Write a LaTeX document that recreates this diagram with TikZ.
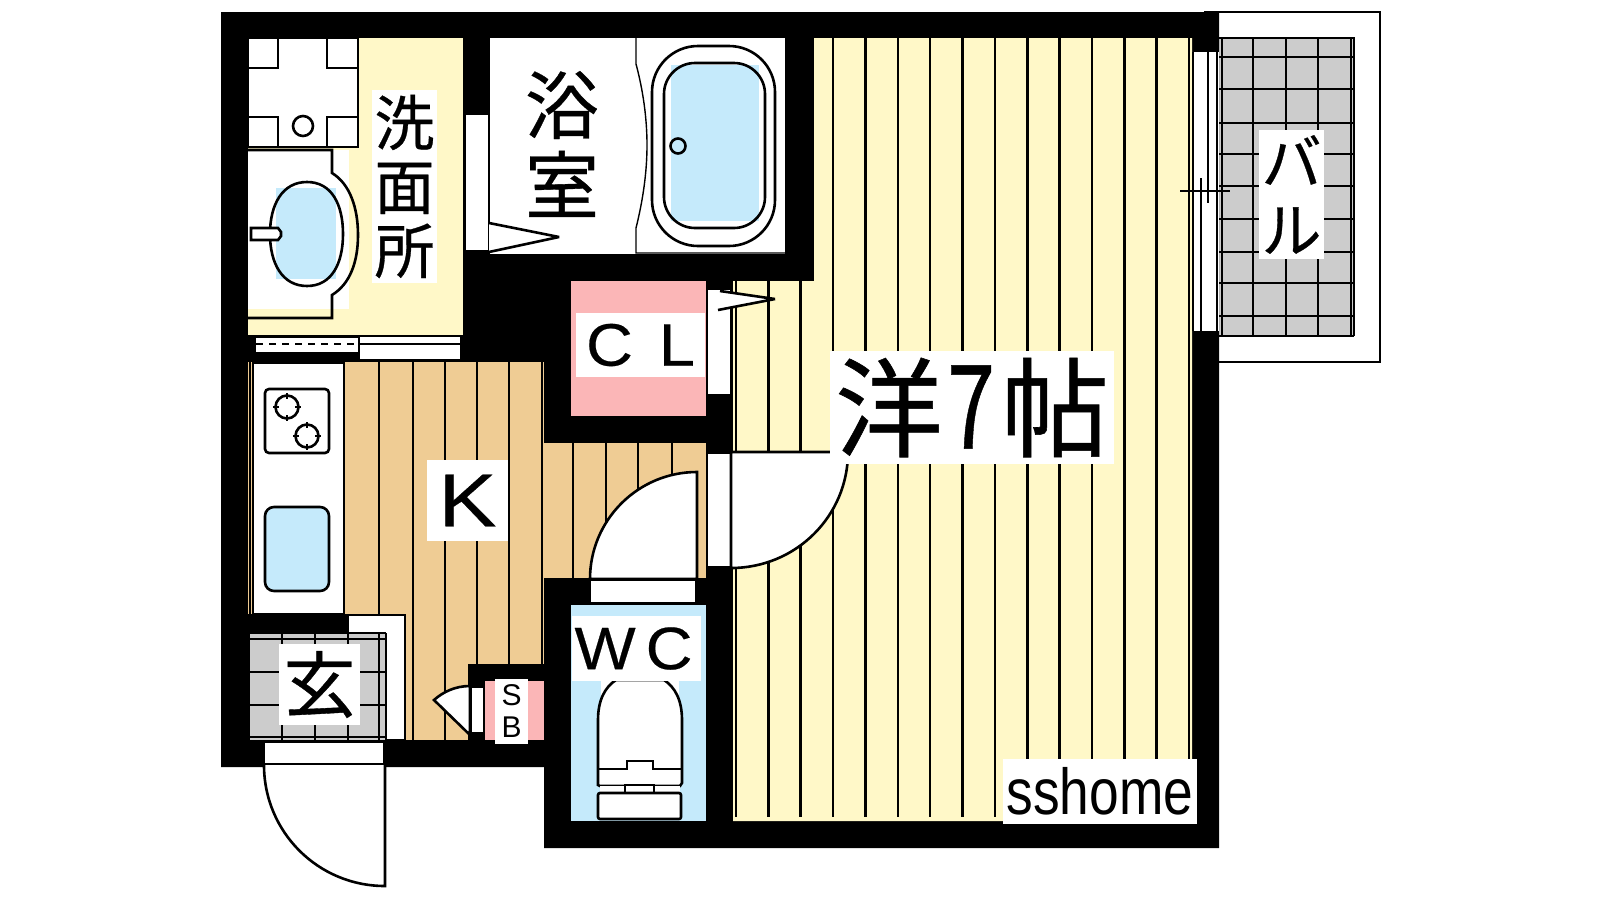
\documentclass[tikz,border=0pt]{standalone}
\usepackage{fontspec}
\setmainfont{Liberation Sans}[FakeBold=0.35]
\newfontfamily\cjk{Noto Sans CJK JP}[FakeBold=0.5]
\newfontfamily\plainlat{Liberation Sans}
\definecolor{yel}{HTML}{FFF8C8}
\definecolor{tan}{HTML}{EFCC94}
\definecolor{pnk}{HTML}{FBB6B7}
\definecolor{blu}{HTML}{C5EAFB}
\definecolor{gry}{HTML}{CCCCCC}
\tikzset{
  ln/.style={draw=black,line width=2.6pt},
  open/.style={fill=white,draw=black,line width=2.6pt},
  lab/.style={fill=white,inner sep=0pt,align=center,text=black},
}
\begin{document}
\begin{tikzpicture}[x=1pt,y=-1pt,line join=miter]
\useasboundingbox (0,0) rectangle (1600,900);
\fill[white] (0,0) rectangle (1600,900);
% balcony
\draw[ln,fill=white] (1205,12) rectangle (1380,362);
\fill[gry] (1219,37) rectangle (1354,336);
\foreach \gx in {1222,1253,1286,1318,1351,1354} \draw[ln] (\gx,37) -- (\gx,336);
\foreach \gy in {38,57,89,123,154,186,219,252,283,316,336} \draw[ln] (1219,\gy) -- (1354,\gy);
% wall mass
\fill[black] (221,12) -- (1219,12) -- (1219,848) -- (544,848) -- (544,767) -- (221,767) -- cycle;
% floors
\fill[yel] (248,38) rectangle (463,335);
\fill[white] (490,38) rectangle (785,254);
\fill[yel] (814,38) -- (1192,38) -- (1192,821) -- (733,821) -- (733,281) -- (814,281) -- cycle;
\fill[tan] (248,362) rectangle (544,740);
\fill[tan] (544,443) rectangle (706,578);
\fill[pnk] (571,281) rectangle (706,416);
\fill[blu] (571,605) rectangle (706,821);
% floor boards, big room
\foreach \k in {3,...,14} \draw[ln] ({736+32.36*\k},38) -- ({736+32.36*\k},817);
\foreach \k in {0,1,2} \draw[ln] ({736+32.36*\k},281) -- ({736+32.36*\k},817);
% floor boards, kitchen and hall
\draw[ln] (250,362) -- (250,614);
\draw[ln] (379,362) -- (379,614);
\foreach \bx in {413,445} \draw[ln] (\bx,362) -- (\bx,740);
\foreach \bx in {477,509,542} \draw[ln] (\bx,362) -- (\bx,664);
\foreach \bx in {573,606,638,672} \draw[ln] (\bx,443) -- (\bx,578);
% washing machine pan
\draw[ln,fill=white] (248,38) rectangle (358,147);
\draw[ln] (248,68) -- (278,68) -- (278,38);
\draw[ln] (358,68) -- (327,68) -- (327,38);
\draw[ln] (248,117) -- (278,117) -- (278,147);
\draw[ln] (358,117) -- (327,117) -- (327,147);
\draw[ln] (303,126) circle (10);
% vanity
\fill[white] (248,150) rectangle (349,309);
\draw[ln] (248,150) -- (332,150) -- (332,173) .. controls (350,184) and (358,208) .. (358,235) .. controls (358,262) and (350,284) .. (332,295) -- (332,318) -- (248,318);
\fill[blu] (276,188) rectangle (336,279);
\draw[ln] (307,182) .. controls (332,182) and (343,205) .. (343,234) .. controls (343,263) and (332,286) .. (307,286) .. controls (282,286) and (270,263) .. (270,234) .. controls (270,205) and (282,182) .. (307,182) -- cycle;
\draw[ln,fill=white] (251,228) -- (278,228) -- (281,232) -- (281,236) -- (278,240) -- (251,240) -- cycle;
% wash room windows
\fill[white] (256,338) rectangle (358,352);
\draw[black,line width=2.6pt,dash pattern=on 7pt off 6pt] (256,344) -- (358,344);
\draw[open] (359,336) rectangle (461,360);
\draw[ln] (359,344) -- (461,344);
% bath door
\draw[open] (465,114) rectangle (489,251);
\draw[open,line join=bevel] (489,223) -- (559,237) -- (489,252);
% bath unit
\draw[black,line width=1.4pt] (636,38) -- (636,64) .. controls (643,90) and (647,118) .. (647,145) .. controls (647,172) and (643,200) .. (636,228) -- (636,253) -- (786,253) -- (786,38);
\fill[blu] (671,65) rectangle (759,221);
\draw[ln,rounded corners=46pt] (652,46) rectangle (775,246);
\draw[ln,rounded corners=31pt] (664,63) rectangle (765,228);
\draw[ln,fill=blu] (678,146) circle (7.5);
% closet door
\draw[open] (707,289) rectangle (731,395);
\fill[white] (708,290) -- (720,291) -- (775,299) -- (718,310) -- cycle;
\draw[ln,line join=bevel] (720,291) -- (775,299) -- (718,310);
% room door
\draw[open] (707,453) rectangle (731,567);
\draw[ln,fill=white] (731,452) -- (848,452) .. controls (848,516) and (796,568) .. (731,568) -- cycle;
% hall door
\draw[ln,fill=white] (590,579) .. controls (590,520) and (638,472) .. (697,472) -- (697,579) -- cycle;
\fill[black] (544,579) rectangle (590,605);
\fill[black] (696,579) rectangle (733,605);
\draw[open] (590,580) rectangle (696,603);
% kitchen counter
\draw[ln,fill=white] (253,363) rectangle (344,614);
\draw[ln,rounded corners=4pt] (265,389) rectangle (329,453);
\foreach \cx/\cy in {287/407,307/436} {
  \draw[ln] (\cx,\cy) circle (11.5);
  \draw[ln] (\cx-14,\cy) -- (\cx-8,\cy) (\cx+8,\cy) -- (\cx+14,\cy) (\cx,\cy-14) -- (\cx,\cy-8) (\cx,\cy+8) -- (\cx,\cy+14);
}
\draw[ln,fill=blu,rounded corners=9pt] (265,507) rectangle (329,591);
% entry
\draw[ln,fill=white] (348,615) -- (405,615) -- (405,740) -- (348,740) -- cycle;
\fill[black] (248,614) rectangle (348,633);
\fill[gry] (248,633) rectangle (386,740);
\foreach \gx in {249,282,315,348,379,386} \draw[ln] (\gx,633) -- (\gx,740);
\foreach \gy in {639,672,705,737} \draw[ln] (248,\gy) -- (386,\gy);
\draw[ln] (248,633) -- (386,633);
\fill[black] (221,740) rectangle (544,767);
\draw[open] (264,742) rectangle (384,764);
\draw[ln,fill=white] (264,765) .. controls (264,832) and (318,886) .. (385,886) -- (385,765);
% shoe box
\fill[black] (468,664) rectangle (544,740);
\fill[pnk] (485,681) rectangle (544,740);
\draw[open] (471,687) rectangle (484,733);
\draw[ln,fill=white] (470,686) .. controls (455,686) and (443,692) .. (434,700) -- (470,735) -- cycle;
% WC
\fill[white] (601,681) rectangle (679,700);
\draw[ln,fill=white] (598,785) -- (598,720) .. controls (598,700) and (605,687) .. (616,680) -- (664,680) .. controls (675,687) and (682,700) .. (682,720) -- (682,783) -- (680,786) -- (600,786) -- cycle;
\draw[ln] (598,769) -- (627,769) -- (627,761) -- (653,761) -- (653,769) -- (682,769);
\fill[white] (600,786) rectangle (680,793);
\draw[ln,fill=white] (625,785) rectangle (654,793);
\draw[ln,fill=white,rounded corners=2pt] (598,793) rectangle (681,819);
% balcony window
\fill[white] (1192,52) rectangle (1219,331);
\draw[ln] (1193,52) -- (1193,331);
\draw[ln] (1217,52) -- (1217,331);
\draw[ln] (1208,52) -- (1208,203);
\draw[ln] (1201,178) -- (1201,331);
\draw[ln] (1180,191) -- (1230,191);
% labels
\node[lab,minimum width=65pt,minimum height=193pt,font=\cjk\fontsize{60}{64}\selectfont] (lwash) at (404.5,186.5) {洗\\面\\所};
\node[lab,font=\cjk\fontsize{74}{80}\selectfont] (lbath) at (562,144) {浴\\室};
\node[lab,minimum width=129pt,minimum height=64pt,font=\fontsize{60}{60}\selectfont] (lcl) at (640.5,345) {\scalebox{1.08}[1]{C}\hspace{26pt}\scalebox{1.08}[1]{L}};
\node[lab,minimum width=129pt,minimum height=65pt,font=\fontsize{60}{60}\selectfont] (lwc) at (636.5,648.5) {\hspace{-6pt}\scalebox{1.08}[1]{W}\hspace{10pt}\scalebox{1.08}[1]{C}};
\node[lab,minimum width=81pt,minimum height=81pt,font=\fontsize{75}{75}\selectfont] (lk) at (467.5,500.5) {\scalebox{1.16}[1]{K}};
\node[lab,minimum width=81pt,minimum height=81pt,font=\cjk\fontsize{72}{72}\selectfont] (lgen) at (319.5,684.5) {玄};
\node[lab,minimum width=33pt,minimum height=65pt,font=\plainlat\fontsize{30}{32}\selectfont] (lsb) at (511.5,711.5) {S\\B};
\node[lab,minimum width=284pt,minimum height=113pt,font=\cjk\fontsize{108}{108}\selectfont] (lroom) at (972,407.5) {洋\hspace{4pt}\scalebox{.8}[1.08]{7}\hspace{6pt}帖};
\node[lab,minimum width=65pt,minimum height=129pt,font=\cjk\fontsize{60}{68}\selectfont] (lbal) at (1291.5,194.5) {バ\\ル};
\node[lab,minimum width=194pt,minimum height=65pt,font=\plainlat\fontsize{65}{65}\selectfont] (lsign) at (1100,791.5) {\scalebox{.82}[1]{sshome}};
\end{tikzpicture}
\end{document}
